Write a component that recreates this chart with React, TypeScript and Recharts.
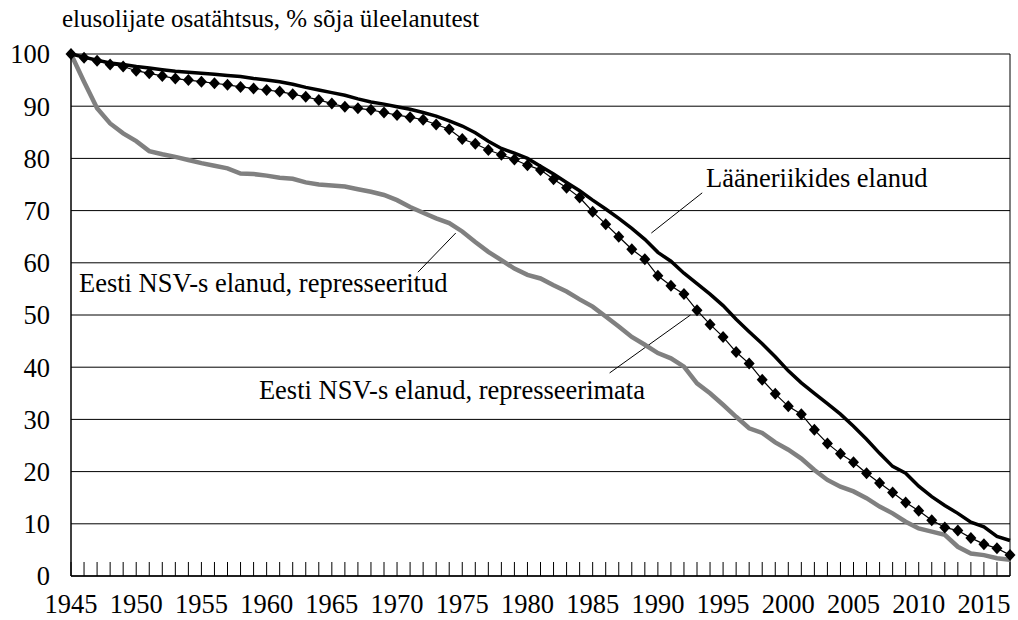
import React from "react";
import { LineChart, Line, XAxis, YAxis, CartesianGrid, ReferenceLine } from "recharts";

// share of survivors still alive, % of war survivors, yearly 1945-2017
const firstYear = 1945;

const westValues = [
  100, 99.4, 98.8, 98.3, 98.0, 97.6, 97.3, 97.0, 96.7, 96.5,
  96.3, 96.1, 95.9, 95.7, 95.3, 95.0, 94.7, 94.2, 93.6, 93.1,
  92.6, 92.1, 91.4, 90.8, 90.4, 89.9, 89.4, 88.8, 88.1, 87.2,
  86.2, 84.9, 83.3, 81.9, 81.0, 80.0, 78.5, 77.0, 75.4, 73.8,
  72.0, 70.3, 68.5, 66.6, 64.5, 62.0, 60.3, 58.0, 56.0, 54.0,
  51.8, 49.2, 46.8, 44.5, 42.0, 39.3, 37.0, 35.0, 33.0, 31.0,
  28.7, 26.2, 23.5, 21.0, 19.7, 17.2, 15.2, 13.5, 12.0, 10.3,
  9.4, 7.6, 6.8,
];

const notRepressedValues = [
  100, 99.3, 98.7, 98.0, 97.6, 96.8, 96.3, 95.8, 95.3, 95.0,
  94.7, 94.4, 94.1, 93.7, 93.4, 93.1, 92.8, 92.3, 91.8, 91.2,
  90.5, 89.9, 89.6, 89.3, 88.8, 88.3, 87.9, 87.4, 86.5, 85.6,
  83.7, 82.8, 81.6, 80.7, 79.8, 78.7, 77.8, 76.0, 74.4, 72.5,
  69.8, 67.4, 65.0, 62.6, 60.7, 57.5, 55.6, 54.0, 50.9, 48.2,
  45.8, 42.9, 40.7, 37.6, 34.9, 32.5, 31.0, 28.0, 25.4, 23.4,
  21.8, 19.7, 17.8, 16.0, 14.1, 12.5, 10.7, 9.3, 8.7, 7.3,
  6.1, 5.3, 4.0,
];

const repressedValues = [
  100, 94.7, 89.6, 86.7, 84.8, 83.3, 81.4, 80.8, 80.3, 79.7,
  79.1, 78.6, 78.1, 77.1, 77.0, 76.7, 76.3, 76.1, 75.4, 75.0,
  74.8, 74.6, 74.1, 73.6, 73.0, 72.0, 70.7, 69.6, 68.5, 67.6,
  66.0, 64.0, 62.1, 60.5, 58.9, 57.7, 57.0, 55.7, 54.5, 53.0,
  51.6, 49.7, 47.8, 45.8, 44.3, 42.7, 41.7, 40.1, 36.9, 35.0,
  32.8, 30.5, 28.3, 27.4, 25.6, 24.2, 22.5, 20.3, 18.4, 17.1,
  16.2, 14.9, 13.3, 12.0, 10.4, 9.1, 8.5, 7.9, 5.6, 4.3,
  4.0, 3.4, 3.1,
];

const yearLabels = [1945, 1950, 1955, 1960, 1965, 1970, 1975, 1980, 1985, 1990, 1995, 2000, 2005, 2010, 2015];
const yTicks = [0, 10, 20, 30, 40, 50, 60, 70, 80, 90, 100];

const years = westValues.map((_, i) => firstYear + i);
const data = years.map((year, i) => ({
  year,
  west: westValues[i],
  notRepressed: notRepressedValues[i],
  repressed: repressedValues[i],
}));

const font = '"Liberation Serif", "Times New Roman", serif';

const YearTick = (props: any) => {
  const { x, y, payload } = props;
  const showLabel = yearLabels.includes(payload.value);
  return (
    <g>
      <line x1={x} x2={x} y1={y} y2={y - 14} stroke="#000" strokeWidth={1} />
      {showLabel && (
        <text x={x} y={y + 28} textAnchor="middle" dominantBaseline="central" fontFamily={font} fontSize={26.5} fill="#000">
          {payload.value}
        </text>
      )}
    </g>
  );
};

const Diamond = (props: any) => {
  const { cx, cy, index } = props;
  if (cx == null || cy == null) return <g key={index} />;
  return <path key={index} d={`M${cx},${cy - 6}L${cx + 5.5},${cy}L${cx},${cy + 6}L${cx - 5.5},${cy}Z`} fill="#000" />;
};

export default function App() {
  return (
    <div style={{ position: "absolute", left: 0, top: 0, width: 1018, height: 620, background: "#fff" }}>
      <LineChart width={1018} height={620} data={data} margin={{ top: 54, right: 8, bottom: 0, left: 0 }}>
        <CartesianGrid vertical={false} stroke="#000" strokeWidth={1} />
        <XAxis
          dataKey="year"
          type="number"
          domain={[1945, 2017]}
          ticks={years}
          interval={0}
          height={44}
          tickSize={0}
          tickMargin={0}
          tickLine={false}
          tick={<YearTick />}
          axisLine={{ stroke: "#000", strokeWidth: 1.5 }}
        />
        <YAxis
          domain={[0, 100]}
          ticks={yTicks}
          width={71}
          tickSize={0}
          tickMargin={21}
          tickLine={false}
          axisLine={{ stroke: "#000", strokeWidth: 1.5 }}
          tick={{ fill: "#000", fontFamily: font, fontSize: 26.5 }}
        />
        <ReferenceLine x={2017} stroke="#000" strokeWidth={1} />
        <ReferenceLine segment={[{ x: 1971.6, y: 58.2 }, { x: 1974.5, y: 65.7 }]} stroke="#000" strokeWidth={1} />
        <ReferenceLine segment={[{ x: 1989.5, y: 65.7 }, { x: 1993.4, y: 73.4 }]} stroke="#000" strokeWidth={1} />
        <ReferenceLine segment={[{ x: 1986.3, y: 38.9 }, { x: 1992.5, y: 50.0 }]} stroke="#000" strokeWidth={1} />
        <Line type="linear" dataKey="repressed" stroke="#808080" strokeWidth={4.5} dot={false} isAnimationActive={false} />
        <Line type="linear" dataKey="west" stroke="#000" strokeWidth={3.5} dot={false} isAnimationActive={false} />
        <Line type="linear" dataKey="notRepressed" stroke="#000" strokeWidth={1.2} dot={<Diamond />} isAnimationActive={false} />
      </LineChart>
      <svg width={1018} height={620} style={{ position: "absolute", left: 0, top: 0, pointerEvents: "none" }}>
        <g fontFamily={font} fill="#000">
          <text x={62} y={18} fontSize={25} dominantBaseline="central">elusolijate osatähtsus, % sõja üleelanutest</text>
          <text x={706} y={178} fontSize={26.5} dominantBaseline="central">Lääneriikides elanud</text>
          <text x={79} y={283} fontSize={26.5} dominantBaseline="central">Eesti NSV-s elanud, represseeritud</text>
          <text x={645} y={390} fontSize={26.5} dominantBaseline="central" textAnchor="end">Eesti NSV-s elanud, represseerimata</text>
        </g>
      </svg>
    </div>
  );
}
